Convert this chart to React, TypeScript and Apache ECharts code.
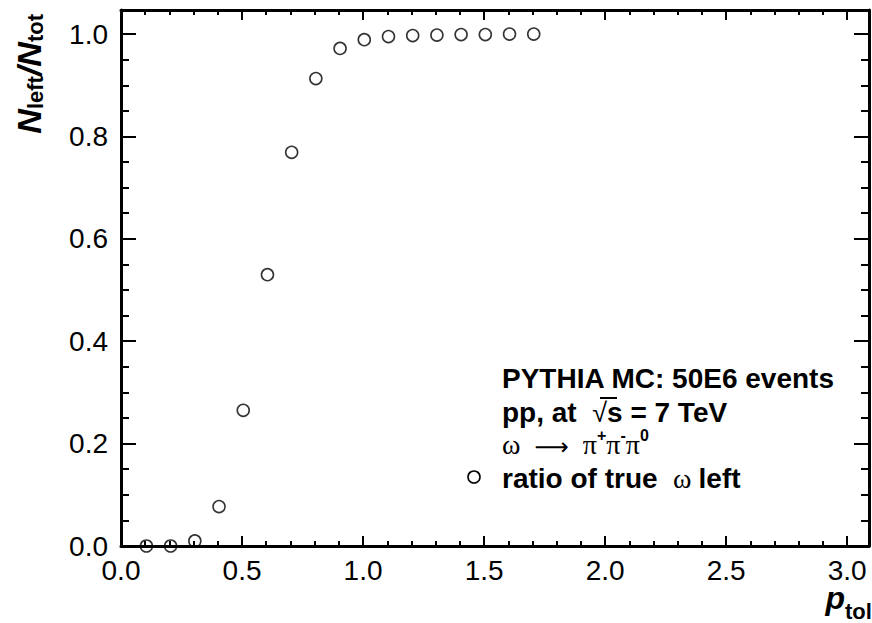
import React, { useEffect, useRef } from "react";
import * as echarts from "echarts";

const xValues = [0.105, 0.205, 0.305, 0.405, 0.505, 0.605, 0.705, 0.805, 0.905, 1.005, 1.105, 1.205, 1.305, 1.405, 1.505, 1.605, 1.705];
const yValues = [0.0, 0.0, 0.01, 0.077, 0.265, 0.53, 0.769, 0.913, 0.972, 0.989, 0.995, 0.997, 0.998, 0.999, 0.999, 1.0, 1.0];

const xMin = 0;
const xMax = 3.09;
const xInterval = 0.5;
const yMin = 0;
const yMax = 1.047;
const yInterval = 0.2;

const legendLines = [
  "PYTHIA MC: 50E6 events",
  "pp, at",
  "= 7 TeV",
  "ratio of true",
  "left",
];

const SANS = "'Liberation Sans', Arial, Helvetica, sans-serif";
const SERIF = "'Liberation Serif', 'DejaVu Serif', serif";

export default function App() {
  const ref = useRef<HTMLDivElement>(null);
  useEffect(() => {
    if (!ref.current) return;
    const chart = echarts.init(ref.current, null, { renderer: "svg" });
    const lineStyle = { color: "#000", width: 2 };
    const xBase = (pos: "bottom" | "top", showLabel: boolean) => ({
      type: "value",
      position: pos,
      min: xMin,
      max: xMax,
      interval: xInterval,
      axisLine: { show: true, onZero: false, lineStyle: { color: "#000", width: 3 } },
      axisTick: { show: true, inside: true, length: 10, lineStyle },
      minorTick: { show: true, splitNumber: 5, length: 5, lineStyle },
      splitLine: { show: false },
      minorSplitLine: { show: false },
      axisLabel: {
        show: showLabel,
        fontSize: 28,
        color: "#000",
        fontFamily: SANS,
        margin: 10,
        showMaxLabel: false,
        formatter: (v: number) => v.toFixed(1),
      },
    });
    const yBase = (pos: "left" | "right", showLabel: boolean) => ({
      type: "value",
      position: pos,
      min: yMin,
      max: yMax,
      interval: yInterval,
      axisLine: { show: true, onZero: false, lineStyle: { color: "#000", width: 3 } },
      axisTick: { show: true, inside: true, length: 15, lineStyle },
      minorTick: { show: true, splitNumber: 4, length: 8, lineStyle },
      splitLine: { show: false },
      minorSplitLine: { show: false },
      axisLabel: {
        show: showLabel,
        fontSize: 28,
        color: "#000",
        fontFamily: SANS,
        margin: 13,
        showMaxLabel: false,
        formatter: (v: number) => v.toFixed(1),
      },
    });

    const boldStyle = { fontFamily: SANS, fontWeight: "bold", fontSize: 28, color: "#000", lineHeight: 31, verticalAlign: "bottom" };
    const serifStyle = { fontFamily: SERIF, fontSize: 28, color: "#000", lineHeight: 31, verticalAlign: "bottom" };
    const arrowStyle = { fontFamily: "'DejaVu Sans', sans-serif", fontSize: 24, color: "#000", lineHeight: 31, verticalAlign: "bottom" };
    const supStyle = { fontFamily: SANS, fontWeight: "bold", fontSize: 16, color: "#000", lineHeight: 16, padding: [0, 0, 10, 0], verticalAlign: "top" };

    chart.setOption({
      animation: false,
      backgroundColor: "#fff",
      grid: { left: 121, right: 3, top: 10, bottom: 77, containLabel: false },
      xAxis: [xBase("bottom", true), xBase("top", false)],
      yAxis: [yBase("left", true), yBase("right", false)],
      series: [
        {
          type: "scatter",
          xAxisIndex: 0,
          yAxisIndex: 0,
          symbol: "circle",
          symbolSize: 12,
          itemStyle: { color: "rgba(0,0,0,0)", borderColor: "#000", borderWidth: 1.6 },
          data: xValues.map((x, i) => [x, yValues[i]]),
        },
      ],
      graphic: [
        // y axis title
        {
          type: "text",
          x: 29,
          y: 14,
          rotation: Math.PI / 2,
          style: {
            text: "{t|N}{s|left}{t|/N}{s|tot}",
            align: "right",
            verticalAlign: "middle",
            rich: {
              t: { fontFamily: SANS, fontWeight: "bold", fontStyle: "italic", fontSize: 34, lineHeight: 34, color: "#000", verticalAlign: "top" },
              s: { fontFamily: SANS, fontWeight: "bold", fontSize: 22, lineHeight: 22, color: "#000", padding: [18, 0, 0, 0], verticalAlign: "bottom" },
            },
          },
        },
        // x axis title: p
        {
          type: "text",
          x: 845,
          y: 608,
          style: {
            text: "p",
            fontFamily: SANS,
            fontWeight: "bold",
            fontStyle: "italic",
            fontSize: 32,
            lineHeight: 20,
            fill: "#000",
            align: "right",
            verticalAlign: "bottom",
          },
        },
        // x axis title: subscript
        {
          type: "text",
          x: 845,
          y: 622,
          style: {
            text: "tol",
            fontFamily: SANS,
            fontWeight: "bold",
            fontSize: 22,
            fill: "#000",
            align: "left",
            verticalAlign: "bottom",
          },
        },
        // legend lines
        {
          type: "text",
          x: 502,
          y: 378,
          style: { text: legendLines[0], fontFamily: SANS, fontWeight: "bold", fontSize: 28, fill: "#000", verticalAlign: "middle" },
        },
        {
          type: "text",
          x: 502,
          y: 411,
          style: {
            text: "{b|" + legendLines[1] + "  }{r|√}{b|s }{b|" + legendLines[2] + "}",
            verticalAlign: "middle",
            rich: {
              b: boldStyle,
              r: { fontFamily: SANS, fontSize: 27, color: "#000", lineHeight: 31, verticalAlign: "bottom" },
            },
          },
        },
        {
          type: "line",
          shape: { x1: 600, y1: 398, x2: 617, y2: 398 },
          style: { stroke: "#000", lineWidth: 2 },
        },
        {
          type: "text",
          x: 502,
          y: 443,
          style: {
            text: "{g|ω  }{a|⟶}{g|  π}{p|+}{g|π}{p|-}{g|π}{p|0}",
            verticalAlign: "middle",
            rich: { g: serifStyle, p: supStyle, a: arrowStyle },
          },
        },
        {
          type: "text",
          x: 502,
          y: 477,
          style: {
            text: "{b|" + legendLines[3] + "  }{g|ω }{b|" + legendLines[4] + "}",
            verticalAlign: "middle",
            rich: { b: boldStyle, g: serifStyle },
          },
        },
        {
          type: "circle",
          shape: { cx: 474, cy: 477, r: 6 },
          style: { fill: "none", stroke: "#000", lineWidth: 1.6 },
        },
      ],
    });
    return () => chart.dispose();
  }, []);
  return <div ref={ref} style={{ position: "absolute", left: 0, top: 0, width: 872, height: 623 }} />;
}
